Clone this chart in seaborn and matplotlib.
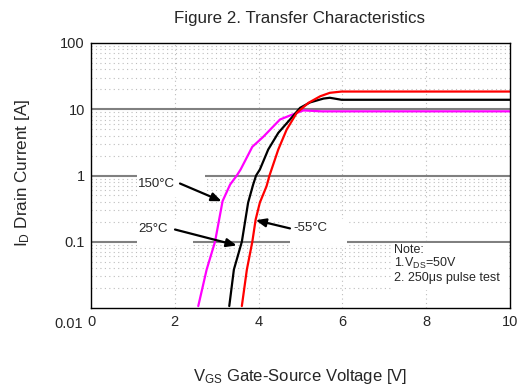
import numpy as np
import pandas as pd
import matplotlib
matplotlib.use("Agg")
import matplotlib.pyplot as plt
import matplotlib.patches as mpatches
import seaborn as sns

# ---- data ----
v_150 = [2.56, 2.76, 2.96, 3.14, 3.32, 3.48, 3.57, 3.85, 4.11, 4.51, 4.75, 5.07, 5.50, 10.0]
i_150 = [0.0107, 0.038, 0.10, 0.41, 0.73, 1.0, 1.23, 2.71, 3.83, 7.0, 8.05, 9.6, 9.3, 9.3]

v_25 = [3.30, 3.41, 3.60, 3.75, 3.87, 3.94, 4.03, 4.23, 4.47, 4.75, 4.99, 5.23, 5.55, 5.70, 5.98, 10.0]
i_25 = [0.0107, 0.038, 0.10, 0.39, 0.73, 1.0, 1.23, 2.47, 4.4, 7.0, 10.5, 12.7, 14.5, 14.9, 13.9, 13.9]

v_m55 = [3.60, 3.72, 3.85, 3.93, 4.03, 4.19, 4.26, 4.47, 4.67, 4.91, 5.19, 5.47, 5.70, 5.98, 10.0]
i_m55 = [0.0107, 0.038, 0.10, 0.217, 0.39, 0.69, 1.0, 2.47, 4.94, 8.8, 12.5, 15.7, 17.7, 18.5, 18.5]

series_names = ["150°C", "25°C", "-55°C"]
x_ticks = [0, 2, 4, 6, 8, 10]
x_ticklabels = ["0", "2", "4", "6", "8", "10"]
y_ticks = [0.1, 1, 10, 100]
y_ticklabels = ["0.1", "1", "10", "100"]

df = pd.concat([
    pd.DataFrame({"V": v_150, "I": i_150, "T": series_names[0]}),
    pd.DataFrame({"V": v_25, "I": i_25, "T": series_names[1]}),
    pd.DataFrame({"V": v_m55, "I": i_m55, "T": series_names[2]}),
], ignore_index=True)

sns.set_style("white")
plt.rcParams["font.family"] = ["Liberation Sans", "DejaVu Sans"]
plt.rcParams["mathtext.fontset"] = "custom"
plt.rcParams["mathtext.rm"] = "Liberation Sans"
plt.rcParams["mathtext.it"] = "Liberation Sans"

W, H = 526, 385
fig = plt.figure(figsize=(W / 100, H / 100), dpi=100)
fig.patch.set_facecolor("white")
x0, x1, y0, y1 = 91, 510, 43, 308
ax = fig.add_axes([x0 / W, 1 - y1 / H, (x1 - x0) / W, (y1 - y0) / H])

ax.set_yscale("log")
ax.set_xlim(0, 10)
ax.set_ylim(0.01, 100)

# grid
minor_y = [m * 10.0 ** e for e in range(-2, 2) for m in range(2, 10)]
dot_kw = dict(color="#bdbdbd", lw=0.8, ls=(0, (1, 3)), zorder=1)
for yv in minor_y:
    ax.axhline(yv, **dot_kw)
for xv in [2, 4, 6, 8]:
    ax.axvline(xv, **dot_kw)
for yv in [0.1, 1, 10]:
    ax.axhline(yv, color="#808080", lw=1.5, zorder=1.5)

palette = {"150°C": "#ff00ff", "25°C": "#000000", "-55°C": "#ff0000"}
sns.lineplot(data=df, x="V", y="I", hue="T", palette=palette, sort=False,
             estimator=None, legend=False, lw=1.6, ax=ax, zorder=4)

# white boxes behind labels (pixel coords -> figure)
def pix_rect(px0, py0, px1, py1):
    r = mpatches.Rectangle((px0 / W, 1 - py1 / H), (px1 - px0) / W, (py1 - py0) / H,
                           transform=fig.transFigure, facecolor="white",
                           edgecolor="none", zorder=2)
    ax.add_patch(r)

pix_rect(137, 170, 205, 197)
pix_rect(137, 219, 193, 246)
pix_rect(290, 219, 347, 246)
pix_rect(392, 243, 508, 290)

lab_fs = 9.5
ax.text(1.13, 0.757, series_names[0], fontsize=lab_fs, va="center", ha="left", zorder=5)
ax.text(1.13, 0.157, series_names[1], fontsize=lab_fs, va="center", ha="left", zorder=5)
ax.text(4.82, 0.159, series_names[2], fontsize=lab_fs, va="center", ha="left", zorder=5)

arrow_kw = dict(arrowstyle="-|>,head_length=0.6,head_width=0.25", color="black", lw=1.6,
                shrinkA=0, shrinkB=0)
ax.annotate("", xy=(3.117, 0.409), xytext=(2.124, 0.757), arrowprops=arrow_kw, zorder=5)
ax.annotate("", xy=(3.477, 0.088), xytext=(2.005, 0.153), arrowprops=arrow_kw, zorder=5)
ax.annotate("", xy=(3.931, 0.2115), xytext=(4.749, 0.159), arrowprops=arrow_kw, zorder=5)

# note
note_fs = 9
ax.text(394 / W, 1 - 250 / H, "Note:", transform=fig.transFigure, fontsize=note_fs,
        va="center", ha="left", zorder=5)
ax.text(394 / W, 1 - 263 / H, r"1.V$_{\mathrm{DS}}$=50V", transform=fig.transFigure,
        fontsize=note_fs, va="center", ha="left", zorder=5)
ax.text(394 / W, 1 - 278 / H, "2. 250μs pulse test", transform=fig.transFigure,
        fontsize=note_fs, va="center", ha="left", zorder=5)

# ticks
ax.set_xticks(x_ticks)
ax.set_xticklabels(x_ticklabels)
ax.set_xticks(range(0, 11), minor=True)
ax.set_yticks(y_ticks)
ax.set_yticklabels(y_ticklabels)
ax.yaxis.set_minor_locator(matplotlib.ticker.FixedLocator(minor_y))
ax.yaxis.set_minor_formatter(matplotlib.ticker.NullFormatter())
ax.tick_params(axis="both", which="both", direction="in", labelsize=10.5, color="black")
ax.tick_params(axis="x", which="both", length=4, pad=5)
ax.tick_params(axis="y", which="major", length=0, pad=4.5)
ax.tick_params(axis="y", which="minor", length=3)
ax.text(83 / W, 1 - 324 / H, "0.01", transform=fig.transFigure, fontsize=10.5,
        ha="right", va="center")

for s in ax.spines.values():
    s.set_visible(True)
    s.set_color("black")
    s.set_linewidth(1.0)
    s.set_zorder(6)

ax.set_xlabel("")
ax.set_ylabel("")
fig.text(23 / W, 1 - 173 / H, r"I$_{\mathrm{D}}$ Drain Current [A]", rotation=90,
         fontsize=12.3, ha="center", va="center")
fig.text(300 / W, 1 - 376 / H, r"V$_{\mathrm{GS}}$ Gate-Source Voltage [V]",
         fontsize=12, ha="center", va="center")
fig.text(299 / W, 1 - 18 / H, "Figure 2. Transfer Characteristics", fontsize=12.2,
         ha="center", va="center")

fig.savefig("out.png", dpi=100)
